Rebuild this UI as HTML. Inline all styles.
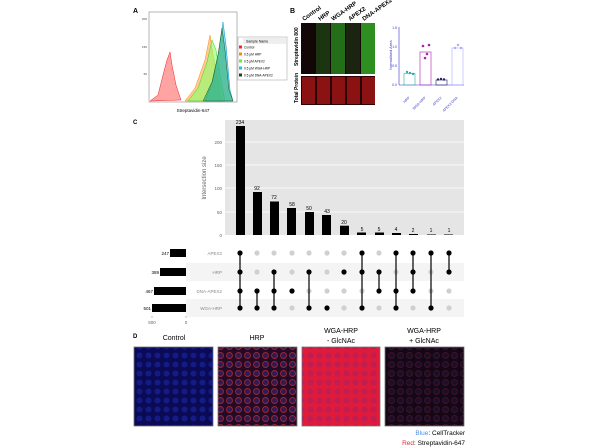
<!DOCTYPE html>
<html><head><meta charset="utf-8"><style>
html,body{margin:0;padding:0;background:#fff;width:600px;height:447px;overflow:hidden}
svg{display:block;font-family:"Liberation Sans",sans-serif}
</style></head><body>
<svg width="600" height="447" viewBox="0 0 600 447" xmlns="http://www.w3.org/2000/svg">
<!-- Panel A -->
<text x="133" y="13" font-size="7" font-weight="bold">A</text>
<rect x="149" y="12" width="88" height="90" fill="none" stroke="#888" stroke-width="0.6"/>
<path d="M150,101 L158,95 L163,75 L167,60 L170,52 L172,65 L176,85 L181,100 Z" fill="#f66" fill-opacity="0.6" stroke="#e22" stroke-width="0.5"/>
<path d="M185,101 L195,88 L205,60 L210,35 L213,55 L218,80 L222,101 Z" fill="#fa5" fill-opacity="0.6" stroke="#f80" stroke-width="0.5"/>
<path d="M188,101 L198,88 L207,62 L212,40 L216,50 L220,75 L225,101 Z" fill="#8f6" fill-opacity="0.6" stroke="#4c2" stroke-width="0.5"/>
<path d="M205,101 L213,80 L219,50 L223,22 L226,45 L230,90 L233,101 Z" fill="#3cf" fill-opacity="0.6" stroke="#09c" stroke-width="0.5"/>
<path d="M203,101 L212,82 L218,55 L222,28 L225,50 L229,90 L233,101 Z" fill="#3a5" fill-opacity="0.55" stroke="#252" stroke-width="0.5"/>
<text x="193" y="112" font-size="4.5" text-anchor="middle">Streptavidin-647</text>
<g font-size="3" fill="#444"><text x="147" y="20" text-anchor="end">200</text><text x="147" y="48" text-anchor="end">150</text><text x="147" y="75" text-anchor="end">50</text></g>
<rect x="238" y="37" width="49" height="43" fill="#fff" stroke="#999" stroke-width="0.5"/>
<rect x="243" y="38" width="43" height="6" fill="#eee"/>
<text x="246" y="42.5" font-size="3.5">Sample Name</text>
<g font-size="3.2">
<rect x="239" y="45.5" width="3" height="3" fill="#f22"/><text x="244" y="48.5">Control</text>
<rect x="239" y="52.5" width="3" height="3" fill="#f80"/><text x="244" y="55.5">0.5 μM HRP</text>
<rect x="239" y="59.5" width="3" height="3" fill="#6e3"/><text x="244" y="62.5">0.5 μM APEX2</text>
<rect x="239" y="66.5" width="3" height="3" fill="#2bf"/><text x="244" y="69.5">0.5 μM WGA-HRP</text>
<rect x="239" y="73.5" width="3" height="3" fill="#242"/><text x="244" y="76.5">0.5 μM DNA-APEX2</text>
</g>
<!-- Panel B -->
<text x="290" y="13" font-size="7" font-weight="bold">B</text>
<g font-size="6" font-weight="bold">
<text transform="translate(304,21) rotate(-35)">Control</text>
<text transform="translate(320,21) rotate(-35)">HRP</text>
<text transform="translate(333,21) rotate(-35)">WGA-HRP</text>
<text transform="translate(350,21) rotate(-35)">APEX2</text>
<text transform="translate(364,21) rotate(-35)">DNA-APEX2</text>
</g>
<rect x="301" y="23" width="74" height="51" fill="#120606"/>
<rect x="316" y="23" width="14" height="51" fill="#1a3510"/>
<rect x="331" y="23" width="14" height="51" fill="#236e18"/>
<rect x="346" y="23" width="14" height="51" fill="#1a2410"/>
<rect x="361" y="23" width="14" height="51" fill="#2e8f20"/>
<rect x="301" y="76" width="74" height="29" fill="#2a0000"/>
<g fill="#8a1212"><rect x="302" y="77" width="13" height="27"/><rect x="317" y="77" width="13" height="27"/><rect x="332" y="77" width="13" height="27"/><rect x="347" y="77" width="13" height="27"/><rect x="362" y="77" width="13" height="27"/></g>
<text transform="translate(298,66) rotate(-90)" font-size="5" font-weight="bold">Streptavidin 800</text>
<text transform="translate(298,103) rotate(-90)" font-size="5" font-weight="bold">Total Protein</text>
<g stroke="#33c" stroke-width="0.6" fill="none">
<line x1="399" y1="27" x2="399" y2="85"/><line x1="399" y1="85" x2="464" y2="85"/>
<rect x="404" y="73.5" width="11" height="11.5" stroke="#3aa"/>
<rect x="420" y="52" width="11" height="33" stroke="#a2a"/>
<rect x="436" y="80" width="11" height="5" stroke="#226"/>
<rect x="452" y="48" width="11" height="37" stroke="#aaf"/>
</g>
<g fill="#33c" font-size="3.5"><text x="397" y="29" text-anchor="end">1.5</text><text x="397" y="48" text-anchor="end">1.0</text><text x="397" y="67" text-anchor="end">0.5</text><text x="397" y="86" text-anchor="end">0.0</text>
<text transform="translate(392,70) rotate(-90)" font-size="4">Normalised Area</text>
<text transform="translate(410,98) rotate(-45)" text-anchor="end">HRP</text>
<text transform="translate(426,98) rotate(-45)" text-anchor="end">WGA-HRP</text>
<text transform="translate(442,98) rotate(-45)" text-anchor="end">APEX2</text>
<text transform="translate(458,98) rotate(-45)" text-anchor="end">APEX2-DNA</text></g>
<g fill="#a2a"><circle cx="423" cy="46" r="1.3"/><circle cx="429" cy="45" r="1.3"/><circle cx="425" cy="58" r="1.3"/><circle cx="427" cy="54" r="1.3"/></g>
<g fill="#3aa"><circle cx="407" cy="72" r="1.2"/><circle cx="410" cy="73" r="1.2"/><circle cx="413" cy="74" r="1.2"/></g>
<g fill="#226"><circle cx="438" cy="79.5" r="1.2"/><circle cx="441" cy="79" r="1.2"/><circle cx="444" cy="79.5" r="1.2"/></g>
<g fill="#aaf"><circle cx="455" cy="48" r="1.2"/><circle cx="458" cy="45" r="1.2"/><circle cx="461" cy="48" r="1.2"/></g>
<!-- Panel C -->
<text x="133" y="124" font-size="6" font-weight="bold">C</text>
<rect x="225" y="120" width="239" height="115" fill="#e5e5e5"/>
<g stroke="#fff" stroke-width="0.7"><line x1="225" y1="142" x2="464" y2="142"/><line x1="225" y1="165" x2="464" y2="165"/><line x1="225" y1="188" x2="464" y2="188"/><line x1="225" y1="212" x2="464" y2="212"/></g>
<g font-size="4.5" fill="#666" text-anchor="end"><text x="222" y="144">200</text><text x="222" y="167">150</text><text x="222" y="190">100</text><text x="222" y="214">50</text><text x="222" y="237">0</text></g>
<text transform="translate(206,178) rotate(-90)" font-size="6" fill="#666" text-anchor="middle">Intersection size</text>
<g fill="#000">
<rect x="236" y="126" width="9" height="109"/><rect x="253" y="192" width="9" height="43"/><rect x="270" y="201.5" width="9" height="33.5"/><rect x="287" y="208" width="9" height="27"/><rect x="305" y="212" width="9" height="23"/><rect x="322" y="215" width="9" height="20"/><rect x="340" y="225.7" width="9" height="9.3"/>
<rect x="357" y="232.5" width="9" height="2.5"/><rect x="375" y="232.5" width="9" height="2.5"/><rect x="392" y="233" width="9" height="2"/><rect x="409" y="234" width="9" height="1"/><rect x="427" y="234.5" width="9" height="0.5"/><rect x="444" y="234.5" width="9" height="0.5"/>
</g>
<g font-size="5" text-anchor="middle">
<text x="240" y="124">234</text><text x="257" y="190">92</text><text x="274" y="199">72</text><text x="292" y="206">58</text><text x="309" y="210">50</text><text x="327" y="213">43</text><text x="344" y="224">20</text><text x="362" y="231">5</text><text x="379" y="231">5</text><text x="396" y="231">4</text><text x="413" y="232">2</text><text x="431" y="232">1</text><text x="449" y="232">1</text>
</g>
<rect x="186" y="263" width="278" height="18" fill="#f4f4f4"/>
<rect x="186" y="299" width="278" height="18" fill="#f4f4f4"/>
<g font-size="4.5" fill="#888" text-anchor="end"><text x="222" y="255">APEX2</text><text x="222" y="274">HRP</text><text x="222" y="293">DNA-APEX2</text><text x="222" y="310">WGA-HRP</text></g>
<g fill="#000"><rect x="170" y="249" width="16" height="8"/><rect x="160" y="268" width="26" height="8"/><rect x="154" y="287" width="32" height="8"/><rect x="152" y="304" width="34" height="8"/></g>
<g font-size="4.5" text-anchor="end"><text x="169" y="255">247</text><text x="159" y="274">389</text><text x="153" y="293">467</text><text x="151" y="310">501</text></g>
<g font-size="4.5" fill="#666" text-anchor="middle"><line x1="152" y1="316" x2="152" y2="318" stroke="#666" stroke-width="0.4"/><line x1="186" y1="316" x2="186" y2="318" stroke="#666" stroke-width="0.4"/><text x="152" y="324">500</text><text x="186" y="324">0</text></g>
<g fill="#d0d0d0">
<circle cx="257" cy="253" r="2.6"/><circle cx="274" cy="253" r="2.6"/><circle cx="292" cy="253" r="2.6"/><circle cx="309" cy="253" r="2.6"/><circle cx="327" cy="253" r="2.6"/><circle cx="344" cy="253" r="2.6"/><circle cx="379" cy="253" r="2.6"/>
<circle cx="257" cy="272" r="2.6"/><circle cx="292" cy="272" r="2.6"/><circle cx="327" cy="272" r="2.6"/><circle cx="396" cy="272" r="2.6"/><circle cx="431" cy="272" r="2.6"/>
<circle cx="309" cy="291" r="2.6"/><circle cx="327" cy="291" r="2.6"/><circle cx="344" cy="291" r="2.6"/><circle cx="362" cy="291" r="2.6"/><circle cx="431" cy="291" r="2.6"/><circle cx="449" cy="291" r="2.6"/>
<circle cx="292" cy="308" r="2.6"/><circle cx="344" cy="308" r="2.6"/><circle cx="379" cy="308" r="2.6"/><circle cx="413" cy="308" r="2.6"/><circle cx="449" cy="308" r="2.6"/>
</g>
<g stroke="#000" stroke-width="1.2">
<line x1="240" y1="253" x2="240" y2="308"/><line x1="257" y1="291" x2="257" y2="308"/><line x1="274" y1="272" x2="274" y2="308"/><line x1="309" y1="272" x2="309" y2="308"/><line x1="362" y1="253" x2="362" y2="308"/><line x1="379" y1="272" x2="379" y2="291"/><line x1="396" y1="253" x2="396" y2="308"/><line x1="413" y1="253" x2="413" y2="291"/><line x1="431" y1="253" x2="431" y2="308"/><line x1="449" y1="253" x2="449" y2="272"/>
</g>
<g fill="#000">
<circle cx="240" cy="253" r="2.6"/><circle cx="240" cy="272" r="2.6"/><circle cx="240" cy="291" r="2.6"/><circle cx="240" cy="308" r="2.6"/>
<circle cx="257" cy="291" r="2.6"/><circle cx="257" cy="308" r="2.6"/>
<circle cx="274" cy="272" r="2.6"/><circle cx="274" cy="291" r="2.6"/><circle cx="274" cy="308" r="2.6"/>
<circle cx="292" cy="291" r="2.6"/>
<circle cx="309" cy="272" r="2.6"/><circle cx="309" cy="308" r="2.6"/>
<circle cx="327" cy="308" r="2.6"/>
<circle cx="344" cy="272" r="2.6"/>
<circle cx="362" cy="253" r="2.6"/><circle cx="362" cy="272" r="2.6"/><circle cx="362" cy="308" r="2.6"/>
<circle cx="379" cy="272" r="2.6"/><circle cx="379" cy="291" r="2.6"/>
<circle cx="396" cy="253" r="2.6"/><circle cx="396" cy="291" r="2.6"/><circle cx="396" cy="308" r="2.6"/>
<circle cx="413" cy="253" r="2.6"/><circle cx="413" cy="272" r="2.6"/><circle cx="413" cy="291" r="2.6"/>
<circle cx="431" cy="253" r="2.6"/><circle cx="431" cy="308" r="2.6"/>
<circle cx="449" cy="253" r="2.6"/><circle cx="449" cy="272" r="2.6"/>
</g>
<!-- Panel D -->
<text x="133" y="338" font-size="6" font-weight="bold">D</text>
<g font-size="7" text-anchor="middle">
<text x="174" y="340">Control</text><text x="257" y="340">HRP</text>
<text x="341" y="333">WGA-HRP</text><text x="341" y="343">- GlcNAc</text>
<text x="424" y="333">WGA-HRP</text><text x="424" y="343">+ GlcNAc</text>
</g>
<defs>
<pattern id="cells" width="9" height="9" patternUnits="userSpaceOnUse"><circle cx="4.5" cy="4.5" r="3" fill="#3a2a80" fill-opacity="0.5" stroke="#d33" stroke-width="0.9" stroke-opacity="0.6"/></pattern>
<pattern id="bcells" width="9" height="9" patternUnits="userSpaceOnUse"><circle cx="4.5" cy="4.5" r="3" fill="#2230c0" fill-opacity="0.45"/></pattern>
</defs>
<g stroke="#777" stroke-width="0.8">
<rect x="134" y="347" width="79" height="79" fill="#0a0a55"/>
<rect x="218" y="347" width="79" height="79" fill="#250a25"/>
<rect x="302" y="347" width="78" height="79" fill="#e01a3a"/>
<rect x="385" y="347" width="79" height="79" fill="#140818"/>
</g>
<rect x="134" y="347" width="79" height="79" fill="url(#bcells)"/>
<rect x="218" y="347" width="79" height="79" fill="url(#cells)"/>
<rect x="302" y="347" width="78" height="79" fill="url(#bcells)" opacity="0.4"/>
<rect x="385" y="347" width="79" height="79" fill="url(#cells)" opacity="0.35"/>
<text x="465" y="435" font-size="6.5" text-anchor="end"><tspan fill="#4a8fe0">Blue</tspan>: CellTracker</text>
<text x="465" y="445" font-size="6.5" text-anchor="end"><tspan fill="#e23">Red</tspan>: Streptavidin-647</text>
</svg>
</body></html>
